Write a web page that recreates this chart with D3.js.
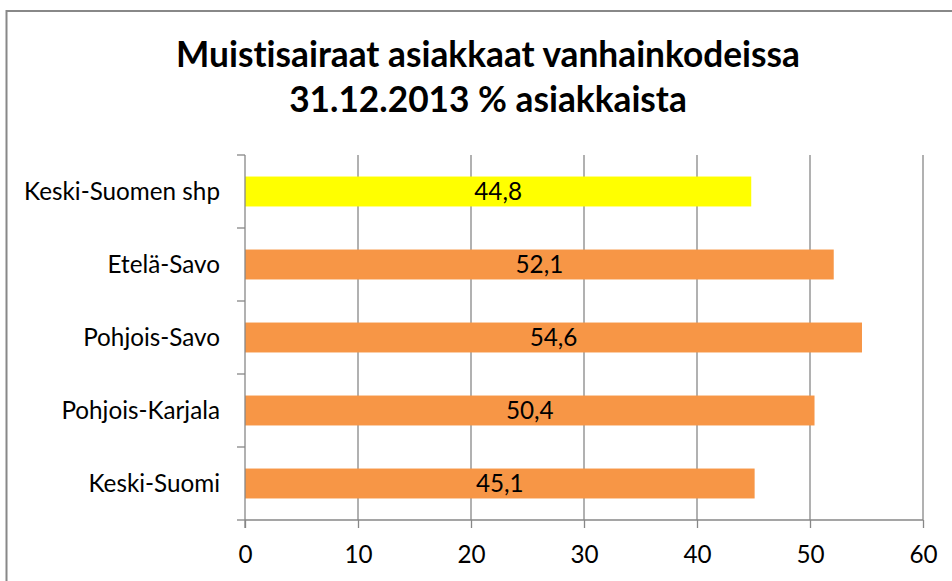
<!DOCTYPE html>
<html><head><meta charset="utf-8">
<script src="https://cdn.jsdelivr.net/npm/d3@7"></script>
<style>html,body{margin:0;padding:0;background:#fff;}svg{display:block;}svg text{font-variant-ligatures:none;font-feature-settings:"liga" 0,"clig" 0;}</style>
</head><body>
<svg id="chart" width="952" height="581"></svg>
<script>
const categories = ["Keski-Suomen shp", "Etelä-Savo", "Pohjois-Savo", "Pohjois-Karjala", "Keski-Suomi"];
const values = [44.8, 52.1, 54.6, 50.4, 45.1];
const barColors = ["#FFFF00", "#F79646", "#F79646", "#F79646", "#F79646"];
const valueLabels = ["44,8", "52,1", "54,6", "50,4", "45,1"];
const xTicks = [0, 10, 20, 30, 40, 50, 60];
const titleLines = ["Muistisairaat asiakkaat vanhainkodeissa", "31.12.2013 % asiakkaista"];

const FONT = "Lato, 'Open Sans', sans-serif";
const svg = d3.select("#chart");

// frame
svg.append("rect").attr("x", 6.5).attr("y", 11).attr("width", 1000).attr("height", 1000)
  .attr("fill", "none").attr("stroke", "#888").attr("stroke-width", 2);

const x = d3.scaleLinear().domain([0, 60]).range([245, 923]);
const y = d3.scaleBand().domain(categories).range([155, 520]).paddingInner(0.59).paddingOuter(0.295);

// fit font helper
function fitSize(text, weight, targetWidth) {
  const t = svg.append("text").attr("font-family", FONT).attr("font-weight", weight)
    .attr("font-size", 20).text(text);
  const w = t.node().getComputedTextLength();
  t.remove();
  return 20 * targetWidth / w;
}
const labelSize = fitSize("Keski-Suomen shp", "normal", 196);
const titleSize = fitSize(titleLines[0], "bold", 624);

// title
svg.append("g").selectAll("text").data(titleLines).join("text")
  .attr("x", 488).attr("y", (d, i) => i === 0 ? 67 : 112)
  .attr("text-anchor", "middle").attr("font-family", FONT).attr("font-weight", "bold")
  .attr("font-size", titleSize).attr("fill", "#000").text(d => d);

// gridlines
svg.append("g").selectAll("line").data(xTicks.slice(1)).join("line")
  .attr("x1", d => x(d)).attr("x2", d => x(d)).attr("y1", 155).attr("y2", 520)
  .attr("stroke", "#878787").attr("stroke-width", 1.3);

// bars
svg.append("g").selectAll("rect").data(categories).join("rect")
  .attr("x", x(0)).attr("y", d => y(d))
  .attr("width", (d, i) => x(values[i]) - x(0))
  .attr("height", y.bandwidth())
  .attr("fill", (d, i) => barColors[i]);

// value labels
svg.append("g").selectAll("text").data(categories).join("text")
  .attr("x", (d, i) => (x(0) + x(values[i])) / 2)
  .attr("y", d => y(d) + y.bandwidth() / 2 + 8)
  .attr("text-anchor", "middle").attr("font-family", FONT).attr("font-size", labelSize)
  .attr("fill", "#000").text((d, i) => valueLabels[i]);

// x axis
const xAxis = d3.axisBottom(x).tickValues(xTicks).tickSize(8).tickPadding(16).tickFormat(d3.format("d"));
const gx = svg.append("g").attr("transform", "translate(0,520)").call(xAxis);
gx.select(".domain").attr("stroke", "#878787").attr("stroke-width", 1.3).attr("d", `M${x(0)},0H${x(60)}`);
gx.selectAll(".tick line").attr("stroke", "#878787").attr("stroke-width", 1.3);
gx.selectAll(".tick text").attr("font-family", FONT).attr("font-size", labelSize).attr("fill", "#000")
  .attr("dy", null).attr("y", 43);

// y axis
const yAxis = d3.axisLeft(y).tickSize(0).tickPadding(25);
const gy = svg.append("g").attr("transform", "translate(245,0)").call(yAxis);
gy.select(".domain").attr("stroke", "#878787").attr("stroke-width", 1.3).attr("d", "M0,155V528");
gy.selectAll(".tick text").attr("font-family", FONT).attr("font-size", labelSize).attr("fill", "#000")
  .attr("dy", null).attr("y", 8);
// category boundary ticks
const bounds = d3.range(categories.length + 1).map(i => 155 + i * (365 / categories.length));
gy.append("g").selectAll("line").data(bounds).join("line")
  .attr("x1", -8).attr("x2", 0).attr("y1", d => d).attr("y2", d => d)
  .attr("stroke", "#878787").attr("stroke-width", 1.3);
</script>
</body></html>
